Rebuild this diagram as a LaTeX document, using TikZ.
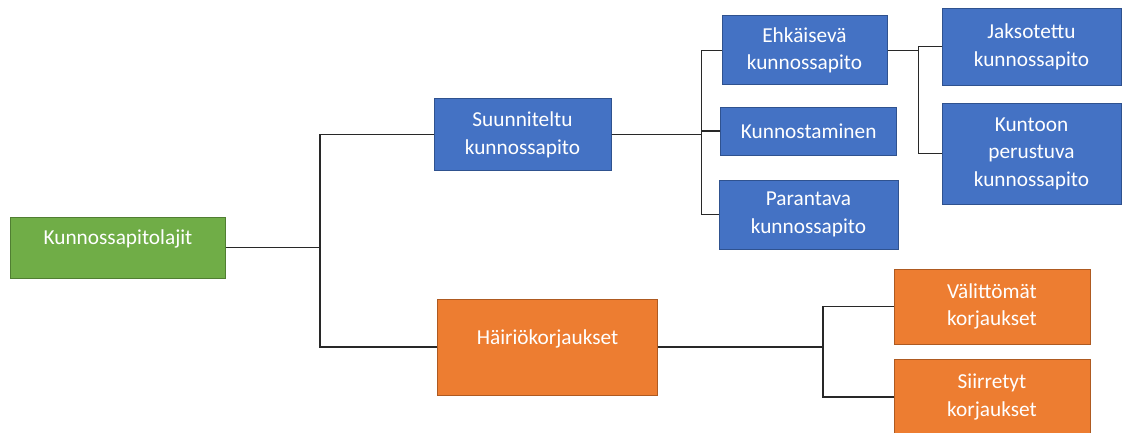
\documentclass[tikz,border=0pt]{standalone}
\usepackage{fontspec}
\setmainfont{Carlito}
\usepackage{xcolor}
\usepackage{tikz}
\usetikzlibrary{positioning}
\definecolor{kpgreen}{HTML}{70AD47}
\definecolor{kpgreenedge}{HTML}{507E32}
\definecolor{kpblue}{HTML}{4472C4}
\definecolor{kpblueedge}{HTML}{2F528F}
\definecolor{kporange}{HTML}{ED7D31}
\definecolor{kporangeedge}{HTML}{AE5A21}
\definecolor{kpline}{RGB}{40,40,40}

\begin{document}
\begin{tikzpicture}[
  x=1pt, y=-1pt,
  every node/.style={font=\fontsize{21.3}{27.5}\selectfont, text=white, align=center, inner sep=2pt},
  rootbox/.style={draw=kpgreenedge, fill=kpgreen, line width=1pt},
  planbox/.style={draw=kpblueedge, fill=kpblue, line width=1pt},
  faultbox/.style={draw=kporangeedge, fill=kporange, line width=1pt},
  raised/.style={text depth=20pt},
  conn/.style={draw=kpline, line width=1.1pt}
]
  \useasboundingbox (0,0) rectangle (1126,432);

  \node[rootbox, raised, minimum width=215pt, minimum height=61pt] (lajit) at (118,247.5) {Kunnossapitolajit};

  \node[planbox, minimum width=177pt, minimum height=72pt]  (suun)    at (522.5,134.7) {Suunniteltu\\kunnossapito};
  \node[faultbox, raised, minimum width=220pt, minimum height=96pt] (hair) at (547.5,347) {Häiriökorjaukset};

  \node[planbox, minimum width=165pt, minimum height=69pt]  (ehk)     at (804.5,50.3)  {Ehkäisevä\\kunnossapito};
  \node[planbox, minimum width=176pt, minimum height=48pt]  (kunnost) at (808.7,131)   {Kunnostaminen};
  \node[planbox, minimum width=179pt, minimum height=69pt]  (par)     at (808.5,214.5) {Parantava\\kunnossapito};

  \node[planbox, minimum width=179pt, minimum height=77pt]  (jaks)    at (1031.5,46.7) {Jaksotettu\\kunnossapito};
  \node[planbox, minimum width=179pt, minimum height=101pt] (kunt)    at (1031.5,153.5) {Kuntoon\\perustuva\\kunnossapito};

  \node[faultbox, minimum width=196pt, minimum height=75pt] (val)     at (992,306.5) {Välittömät\\korjaukset};
  \node[faultbox, minimum width=196pt, minimum height=75pt] (siir)    at (992,397)   {Siirretyt\\korjaukset};

  % Tree connectors
  \foreach \b in {suun, hair}
    \draw[conn] (lajit.east) -- ++(94,0) |- (\b.west);
  \foreach \b in {ehk, kunnost, par}
    \draw[conn] (suun.east) -- ++(90,0) |- (\b.west);
  \foreach \b in {jaks, kunt}
    \draw[conn] (ehk.east) -- ++(31,0) |- (\b.west);
  \foreach \b in {val, siir}
    \draw[conn] (hair.east) -- ++(165,0) |- (\b.west);
\end{tikzpicture}
\end{document}
